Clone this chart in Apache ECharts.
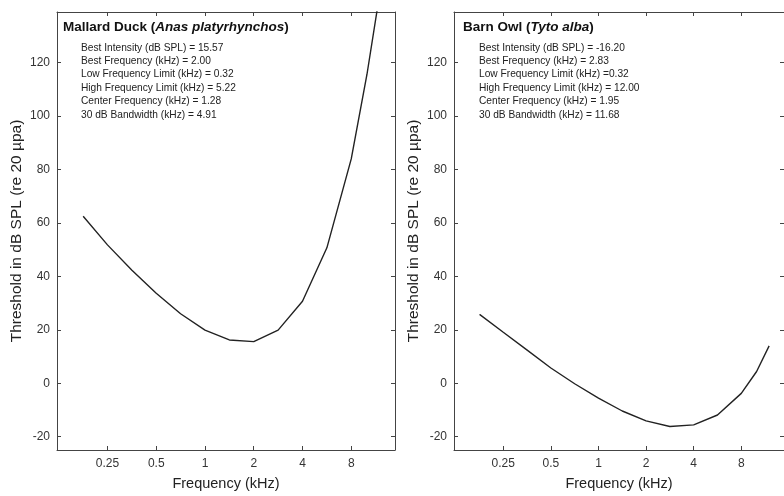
<!DOCTYPE html>
<html>
<head>
<meta charset="utf-8">
<script src="https://cdn.jsdelivr.net/npm/echarts@6/dist/echarts.min.js"></script>
<style>html,body{margin:0;padding:0;background:#fff}#c{width:784px;height:496px}</style>
</head>
<body>
<div id="c"></div>
<script>
const freqs = [0.177, 0.25, 0.354, 0.5, 0.707, 1, 1.414, 2, 2.828, 4, 5.657, 8, 10, 12];
const mallard = [62.5, 51.8, 42.3, 33.7, 26.0, 19.9, 16.2, 15.57, 19.9, 30.7, 50.7, 84, 115.6, 146];
const owl = [25.8, 19.1, 12.4, 5.7, -0.2, -5.6, -10.4, -14.1, -16.2, -15.6, -11.9, -3.8, 4.4, 14.0];
const xTicks = [0.25, 0.5, 1, 2, 4, 8];
const yTicks = [-20, 0, 20, 40, 60, 80, 100, 120];
const mallardTitle = ['Mallard Duck (', 'Anas platyrhynchos', ')'];
const owlTitle = ['Barn Owl (', 'Tyto alba', ')'];
const mallardStats = [
  'Best Intensity (dB SPL) = 15.57',
  'Best Frequency (kHz) = 2.00',
  'Low Frequency Limit (kHz) = 0.32',
  'High Frequency Limit (kHz) = 5.22',
  'Center Frequency (kHz) = 1.28',
  '30 dB Bandwidth (kHz) = 4.91'
];
const owlStats = [
  'Best Intensity (dB SPL) = -16.20',
  'Best Frequency (kHz) = 2.83',
  'Low Frequency Limit (kHz) =0.32',
  'High Frequency Limit (kHz) = 12.00',
  'Center Frequency (kHz) = 1.95',
  '30 dB Bandwidth (kHz) = 11.68'
];
const xName = 'Frequency (kHz)';
const yName = 'Threshold in dB SPL (re 20 \u00B5pa)';

const FONT = '"Liberation Sans", Arial, sans-serif';
const AX = '#444';
const XMIN = 0.122, XMAX = 14.9, YMIN = -25, YMAX = 139;

function xAx(grid, mirror) {
  return {
    type: 'log', logBase: 10, gridIndex: grid, min: XMIN, max: XMAX,
    position: mirror ? 'top' : 'bottom',
    name: mirror ? '' : xName, nameLocation: 'middle', nameGap: 26,
    nameTextStyle: { fontFamily: FONT, fontSize: 14.5, color: '#222' },
    axisLine: { show: true, onZero: false, lineStyle: { color: AX, width: 1 } },
    axisTick: { show: true, inside: true, length: 4, customValues: xTicks, lineStyle: { color: AX } },
    minorTick: { show: false },
    axisLabel: { show: !mirror, customValues: xTicks, margin: 8, fontFamily: FONT, fontSize: 12, color: '#333',
      formatter: v => String(+v.toFixed(3)) },
    splitLine: { show: false }
  };
}
function yAx(grid, mirror) {
  return {
    type: 'value', gridIndex: grid, min: YMIN, max: YMAX,
    position: mirror ? 'right' : 'left',
    name: mirror ? '' : yName, nameLocation: 'middle', nameGap: 32, nameRotate: 90,
    nameTextStyle: { fontFamily: FONT, fontSize: 15.5, color: '#222' },
    axisLine: { show: true, onZero: false, lineStyle: { color: AX, width: 1 } },
    axisTick: { show: true, inside: true, length: 4, customValues: yTicks, lineStyle: { color: AX } },
    axisLabel: { show: !mirror, customValues: yTicks, margin: 7, fontFamily: FONT, fontSize: 12, color: '#333' },
    splitLine: { show: false }
  };
}
function titleText(parts) {
  return '{b|' + parts[0] + '}{bi|' + parts[1] + '}{b|' + parts[2] + '}';
}
const titleRich = {
  b: { fontFamily: FONT, fontSize: 13.5, fontWeight: 'bold', color: '#111' },
  bi: { fontFamily: FONT, fontSize: 13.5, fontWeight: 'bold', fontStyle: 'italic', color: '#111' }
};
const statStyle = { fontFamily: FONT, fontSize: 10.2, fontWeight: 'normal', color: '#222', lineHeight: 13.45 };

const chart = echarts.init(document.getElementById('c'), null, { renderer: 'canvas' });
chart.setOption({
  animation: false,
  backgroundColor: '#fff',
  title: [
    { text: titleText(mallardTitle), left: 63, top: 20, padding: 0, textStyle: { rich: titleRich } },
    { text: mallardStats.join('\n'), left: 81, top: 41, padding: 0, textStyle: statStyle },
    { text: titleText(owlTitle), left: 463, top: 20, padding: 0, textStyle: { rich: titleRich } },
    { text: owlStats.join('\n'), left: 479, top: 41, padding: 0, textStyle: statStyle }
  ],
  grid: [
    { left: 57, top: 12, width: 338, height: 442 },
    { left: 454, top: 12, width: 338, height: 442 }
  ],
  xAxis: [xAx(0, false), xAx(0, true), xAx(1, false), xAx(1, true)],
  yAxis: [yAx(0, false), yAx(0, true), yAx(1, false), yAx(1, true)],
  series: [
    { type: 'line', xAxisIndex: 0, yAxisIndex: 0, data: freqs.map((f, i) => [f, mallard[i]]),
      showSymbol: false, symbol: 'none', clip: true, lineStyle: { color: '#222', width: 1.4 } },
    { type: 'line', xAxisIndex: 2, yAxisIndex: 2, data: freqs.map((f, i) => [f, owl[i]]),
      showSymbol: false, symbol: 'none', clip: true, lineStyle: { color: '#222', width: 1.4 } }
  ]
});
</script>
</body>
</html>
